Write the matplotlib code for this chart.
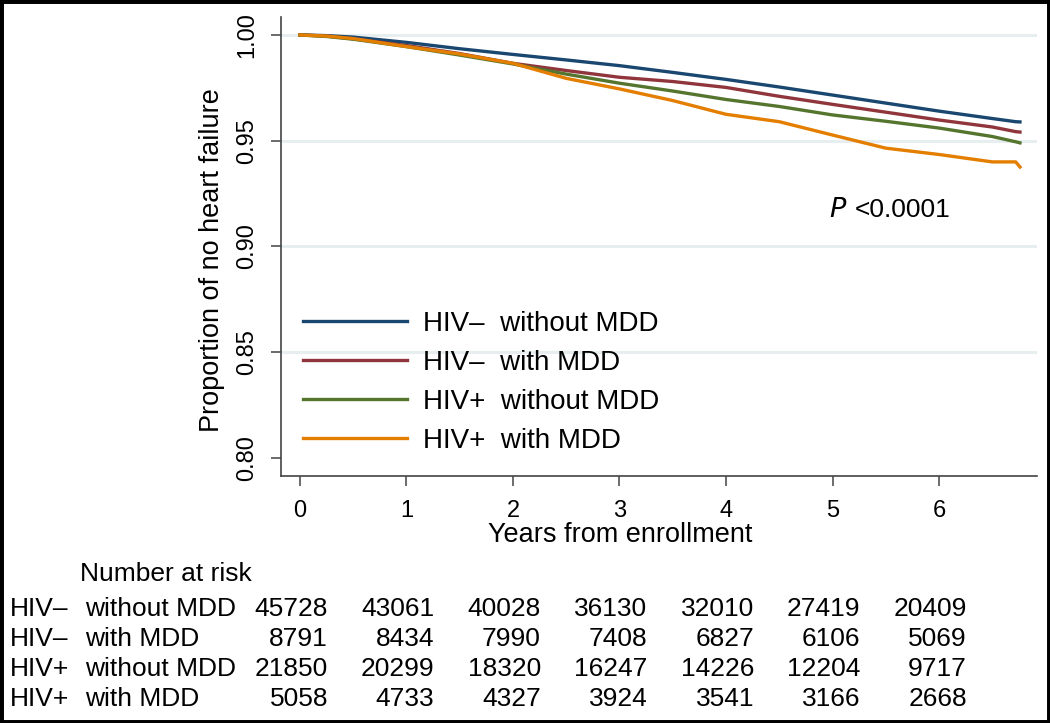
import matplotlib.pyplot as plt
from matplotlib.patches import Rectangle
from matplotlib.transforms import blended_transform_factory

plt.rcParams['font.family'] = ['Liberation Sans', 'DejaVu Sans']

# Survival estimates (years from enrollment)
years = [0, 0.25, 0.5, 1, 1.5, 2, 2.5, 3, 3.5, 4, 4.5, 5, 5.5, 6, 6.5, 6.72, 6.76]
neg_no_mdd = [1.0, 0.9997, 0.9990, 0.9965, 0.9935, 0.9908, 0.9882, 0.9855, 0.9823,
              0.9790, 0.9754, 0.9716, 0.9678, 0.9640, 0.9605, 0.9590, 0.9589]
neg_mdd = [1.0, 0.9995, 0.9982, 0.9950, 0.9912, 0.9866, 0.9832, 0.9800, 0.9780,
           0.9752, 0.9710, 0.9672, 0.9635, 0.9598, 0.9565, 0.9543, 0.9541]
pos_no_mdd = [1.0, 0.9993, 0.9980, 0.9945, 0.9905, 0.9863, 0.9815, 0.9772, 0.9735,
              0.9695, 0.9662, 0.9622, 0.9592, 0.9560, 0.9520, 0.9495, 0.9490]
pos_mdd = [1.0, 0.9995, 0.9983, 0.9945, 0.9910, 0.9866, 0.9795, 0.9745, 0.9690,
           0.9625, 0.9590, 0.9527, 0.9465, 0.9435, 0.9400, 0.9400, 0.9376]

hiv_status = ['HIV\u2013', 'HIV\u2013', 'HIV+', 'HIV+']
mdd_status = ['without MDD', 'with MDD', 'without MDD', 'with MDD']
colors = ['#1a476f', '#90353b', '#55752f', '#e37e00']

# Number at risk table
risk_years = [0, 1, 2, 3, 4, 5, 6]
risk_neg_no_mdd = [45728, 43061, 40028, 36130, 32010, 27419, 20409]
risk_neg_mdd = [8791, 8434, 7990, 7408, 6827, 6106, 5069]
risk_pos_no_mdd = [21850, 20299, 18320, 16247, 14226, 12204, 9717]
risk_pos_mdd = [5058, 4733, 4327, 3924, 3541, 3166, 2668]

W, H = 1050, 723
fig = plt.figure(figsize=(W / 100, H / 100), dpi=100)
ax = fig.add_axes([281 / W, 1 - 476 / H, (1037 - 281) / W, (476 - 17) / H])

curves = [neg_no_mdd, neg_mdd, pos_no_mdd, pos_mdd]
for surv, hiv, mdd, c in zip(curves, hiv_status, mdd_status, colors):
    ax.plot(years, surv, color=c, lw=2.4, label=hiv + '  ' + mdd, zorder=3)

ax.set_xlim(-0.178, 6.92)
ax.set_ylim(0.7915, 1.0085)
ax.set_xticks(risk_years)
ax.set_yticks([0.80, 0.85, 0.90, 0.95, 1.00])
ax.set_yticklabels(['0.80', '0.85', '0.90', '0.95', '1.00'])

ax.grid(axis='y', color='#e6eef0', lw=2.2, zorder=0)
ax.yaxis.get_gridlines()[0].set_visible(False)

for s in ['top', 'right']:
    ax.spines[s].set_visible(False)
for s in ['left', 'bottom']:
    ax.spines[s].set_color('#444444')
    ax.spines[s].set_linewidth(1.2)

ax.tick_params(axis='both', direction='out', length=7.5, width=1.1,
               color='#444444', labelsize=17)
ax.tick_params(axis='x', pad=10)
ax.tick_params(axis='y', pad=9, labelrotation=90)
for lab in ax.get_yticklabels():
    lab.set_va('center')

ax.set_ylabel('Proportion of no heart failure', fontsize=19.5, labelpad=8)
ax.yaxis.label.set_y(0.47)
ax.set_xlabel('Years from enrollment', fontsize=19.5, labelpad=0)
ax.xaxis.label.set_x(0.448)

ax.text(829 / W, 1 - 210 / H, '$P$', fontsize=19.5, ha='left', va='center',
        transform=fig.transFigure, math_fontfamily='dejavusans')
ax.text(855 / W, 1 - 210 / H, '<0.0001', fontsize=19, ha='left', va='center',
        transform=fig.transFigure)

ax.legend(loc='upper left', bbox_to_anchor=(303 / W, 1 - 311 / H),
          bbox_transform=fig.transFigure, frameon=False, fontsize=20,
          handlelength=3.74, handletextpad=0.58, labelspacing=0.47,
          borderpad=0, borderaxespad=0)

# Number at risk table
trans = blended_transform_factory(ax.transData, fig.transFigure)
fig.text(80 / W, 1 - 581 / H, 'Number at risk', fontsize=19, va='baseline')
row_base = [616, 646, 676, 706]
risk_rows = [risk_neg_no_mdd, risk_neg_mdd, risk_pos_no_mdd, risk_pos_mdd]
for yb, hiv, mdd, counts in zip(row_base, hiv_status, mdd_status, risk_rows):
    fig.text(10 / W, 1 - yb / H, hiv, fontsize=19, va='baseline')
    fig.text(85 / W, 1 - yb / H, mdd, fontsize=19, va='baseline')
    for t, n in zip(risk_years, counts):
        ax.text(t + 0.263, 1 - yb / H, str(n), fontsize=19, ha='right',
                va='baseline', transform=trans, clip_on=False)

fig.add_artist(Rectangle((0, 0), 1, 1, transform=fig.transFigure, fill=False,
                         lw=5, ec='black'))

fig.savefig('out.png', dpi=100)
